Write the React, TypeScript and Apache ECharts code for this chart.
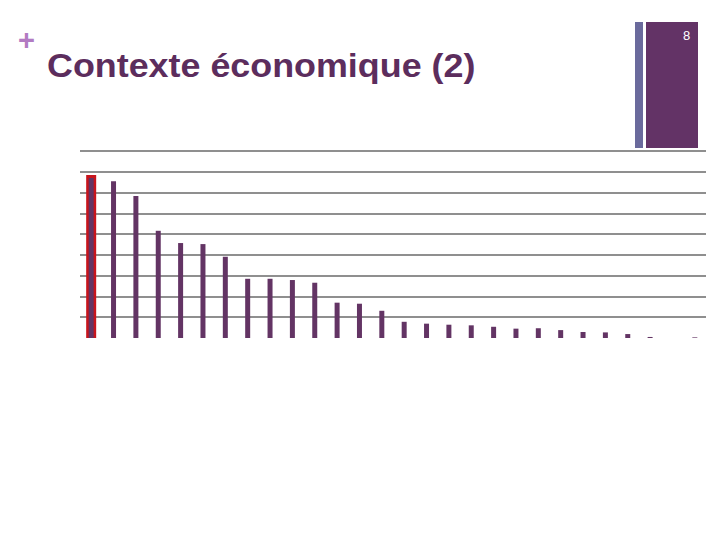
import React, { useEffect, useRef } from "react";
import * as echarts from "echarts";

const categories: string[] = [
  "1", "2", "3", "4", "5", "6", "7", "8", "9", "10", "11", "12", "13", "14",
  "15", "16", "17", "18", "19", "20", "21", "22", "23", "24", "25", "26", "27", "28",
];
const values: number[] = [
  7.7, 7.55, 6.83, 5.16, 4.57, 4.52, 3.91, 2.85, 2.85, 2.79, 2.66, 1.7, 1.65, 1.31,
  0.78, 0.69, 0.64, 0.61, 0.54, 0.45, 0.47, 0.38, 0.29, 0.27, 0.19, 0.05, 0, 0.03,
];
const highlight: (number | null)[] = [
  7.85, null, null, null, null, null, null, null, null, null, null, null, null, null,
  null, null, null, null, null, null, null, null, null, null, null, null, null, null,
];
const yTicks: number[] = [0, 1, 2, 3, 4, 5, 6, 7, 8, 9];
const titleText = "Contexte économique (2)";
const pageNumber = "8";

const PURPLE = "#633464";
const gridColors = yTicks.map((v) => (v === 0 ? "rgba(0,0,0,0)" : "#8f8f8f"));

export default function App() {
  const ref = useRef<HTMLDivElement>(null);
  useEffect(() => {
    if (!ref.current) return;
    const chart = echarts.init(ref.current, undefined, { renderer: "svg" });
    chart.setOption({
      animation: false,
      backgroundColor: "#ffffff",
      graphic: [
        {
          type: "text",
          x: 47,
          y: 48,
          scaleX: 1.055,
          style: {
            text: titleText,
            x: 0,
            y: 0,
            fontFamily: "Liberation Sans, Arial, sans-serif",
            fontSize: 34,
            fontWeight: "bold",
            fill: "#5c2d5d",
            verticalAlign: "top",
          },
        },
        {
          type: "text",
          x: 18,
          y: 25,
          style: {
            text: "+",
            x: 0,
            y: 0,
            fontFamily: "Liberation Sans, Arial, sans-serif",
            fontSize: 29,
            fontWeight: "bold",
            fill: "#b27bc2",
            verticalAlign: "top",
          },
        },
        {
          type: "rect",
          shape: { x: 635, y: 22, width: 8, height: 126 },
          style: { fill: "#6a6a9c" },
        },
        {
          type: "rect",
          shape: { x: 646, y: 22, width: 52, height: 126 },
          style: { fill: "#633366" },
        },
        {
          type: "text",
          x: 683,
          y: 29,
          style: {
            text: pageNumber,
            x: 0,
            y: 0,
            fontFamily: "Liberation Sans, Arial, sans-serif",
            fontSize: 13,
            fill: "#ffffff",
            verticalAlign: "top",
          },
        },
      ],
      grid: { left: 80, right: 14, top: 151, bottom: 202 },
      xAxis: [
        {
          type: "category",
          data: categories,
          axisLine: { show: false },
          axisTick: { show: false },
          axisLabel: { show: false },
          splitLine: { show: false },
        },
        {
          type: "category",
          data: categories,
          show: false,
        },
      ],
      yAxis: {
        type: "value",
        min: 0,
        max: 9,
        interval: 1,
        axisLine: { show: false },
        axisTick: { show: false },
        axisLabel: { show: false },
        splitLine: { show: true, lineStyle: { color: gridColors, width: 2 } },
      },
      series: [
        {
          type: "bar",
          xAxisIndex: 1,
          data: highlight,
          barWidth: 10,
          itemStyle: { color: "#c8141c" },
          z: 2,
        },
        {
          type: "bar",
          xAxisIndex: 0,
          data: values,
          barWidth: 5,
          itemStyle: { color: PURPLE },
          z: 3,
        },
      ],
    });
    return () => chart.dispose();
  }, []);
  return (
    <div
      ref={ref}
      style={{ position: "fixed", left: 0, top: 0, width: 720, height: 540 }}
    />
  );
}
